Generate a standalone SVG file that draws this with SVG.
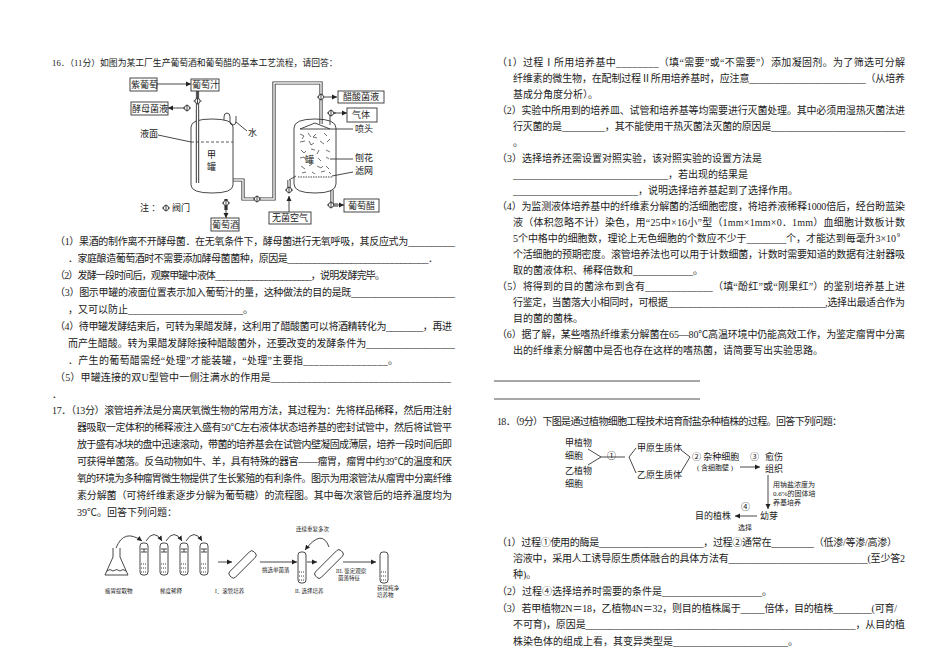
<svg xmlns="http://www.w3.org/2000/svg" width="950" height="672" viewBox="0 0 950 672">
<defs>
<marker id="ar" markerWidth="6" markerHeight="6" refX="5" refY="3" orient="auto" markerUnits="userSpaceOnUse"><path d="M0,0.5 L5,3 L0,5.5 z" fill="#222"/></marker>
<g id="valve"><line x1="-4" y1="0" x2="4" y2="0" stroke="#333" stroke-width="1"/><circle cx="0" cy="0" r="2.6" fill="#fff" stroke="#333" stroke-width="0.9"/><line x1="0" y1="-3.5" x2="0" y2="3.5" stroke="#333" stroke-width="0.9"/></g>
</defs>
<style>
text{font-family:"Liberation Serif","Noto Sans CJK SC",serif;fill:#222}
.t{font-size:10px}
.s{font-size:9px}
.xs{font-size:5.5px}
.box{fill:#fff;stroke:#333;stroke-width:0.9}
.ln{fill:none;stroke:#333;stroke-width:0.9}
.pp{fill:none;stroke:#333;stroke-width:3.2}
.pi{fill:none;stroke:#fff;stroke-width:1.4}
.ul{stroke:#222;stroke-width:0.8}
</style>
<rect width="950" height="672" fill="#fff"/>

<g id="q16-text" class="t">
<text x="52" y="66" style="font-size:8.8px">16．（11分）如图为某工厂生产葡萄酒和葡萄醋的基本工艺流程，请回答：</text>
<text x="55" y="245" textLength="400">（1）果酒的制作离不开酵母菌．在无氧条件下，酵母菌进行无氧呼吸，其反应式为__________</text>
<text x="68" y="262" textLength="370">．家庭酿造葡萄酒时不需要添加酵母菌菌种，原因是_______________________________．</text>
<text x="55" y="279" textLength="330">（2）发酵一段时间后，观察甲罐中液体_______________________，说明发酵完毕。</text>
<text x="55" y="296" textLength="400">（3）图示甲罐的液面位置表示加入葡萄汁的量，这种做法的目的是既______________________</text>
<text x="68" y="313" textLength="185">，又可以防止_______________________。</text>
<text x="55" y="330" textLength="397">（4）待甲罐发酵结束后，可转为果醋发酵，这利用了醋酸菌可以将酒精转化为________，再进</text>
<text x="68" y="347" textLength="387">而产生醋酸。转为果醋发酵除接种醋酸菌外，还要改变的发酵条件为__________________</text>
<text x="68" y="364" textLength="330">．产生的葡萄醋需经“处理”才能装罐，“处理”主要指________________。</text>
<text x="55" y="381" textLength="396">（5）甲罐连接的双U型管中一侧注满水的作用是___________________________________</text>
<text x="52" y="398">．</text>
</g>

<g id="q17-text" class="t">
<text x="52" y="414" textLength="400">17．（13分）滚管培养法是分离厌氧微生物的常用方法，其过程为：先将样品稀释，然后用注射</text>
<text x="77" y="431" textLength="375">器吸取一定体积的稀释液注入盛有50℃左右液体状态培养基的密封试管中，然后将试管平</text>
<text x="77" y="448" textLength="375">放于盛有冰块的盘中迅速滚动，带菌的培养基会在试管内壁凝固成薄层，培养一段时间后即</text>
<text x="77" y="465" textLength="375">可获得单菌落。反刍动物如牛、羊，具有特殊的器官——瘤胃，瘤胃中约39℃的温度和厌</text>
<text x="77" y="482" textLength="375">氧的环境为多种瘤胃微生物提供了生长繁殖的有利条件。图示为用滚管法从瘤胃中分离纤维</text>
<text x="77" y="499" textLength="375">素分解菌（可将纤维素逐步分解为葡萄糖）的流程图。其中每次滚管后的培养温度均为</text>
<text x="77" y="516">39℃。回答下列问题：</text>
</g>

<g id="q17r-text" class="t">
<text x="497" y="66" textLength="408">（1）过程Ⅰ所用培养基中________（填“需要”或“不需要”）添加凝固剂。为了筛选可分解</text>
<text x="513" y="82" textLength="392">纤维素的微生物，在配制过程Ⅱ所用培养基时，应注意________________________（从培养</text>
<text x="513" y="98">基成分角度分析）。</text>
<text x="497" y="114" textLength="408">（2）实验中所用到的培养皿、试管和培养基等均需要进行灭菌处理。其中必须用湿热灭菌法进</text>
<text x="513" y="130" textLength="392">行灭菌的是_________，其不能使用干热灭菌法灭菌的原因是____________________________</text>
<text x="513" y="146">。</text>
<text x="497" y="162">（3）选择培养还需设置对照实验，该对照实验的设置方法是</text>
<text x="513" y="178">_______________________________，若出现的结果是</text>
<text x="513" y="194">_________________________，说明选择培养基起到了选择作用。</text>
<text x="497" y="210" textLength="408">（4）为监测液体培养基中的纤维素分解菌的活细胞密度，将培养液稀释1000倍后，经台盼蓝染</text>
<text x="513" y="226" textLength="392">液（体积忽略不计）染色，用“25中×16小”型（1mm×1mm×0．1mm）血细胞计数板计数</text>
<text x="513" y="242" textLength="383">5个中格中的细胞数，理论上无色细胞的个数应不少于________个，才能达到每毫升3×10</text>
<text x="897" y="237" style="font-size:6px">9</text>
<text x="513" y="258" textLength="392">个活细胞的预期密度。滚管培养法也可以用于计数细菌，计数时需要知道的数据有注射器吸</text>
<text x="513" y="274">取的菌液体积、稀释倍数和____________。</text>
<text x="497" y="290" textLength="408">（5）将得到的目的菌涂布到含有_____________（填“酚红”或“刚果红”）的鉴别培养基上进</text>
<text x="513" y="306" textLength="392">行鉴定，当菌落大小相同时，可根据__________________________________,选择出最适合作为</text>
<text x="513" y="322">目的菌的菌株。</text>
<text x="497" y="338" textLength="408">（6）据了解，某些嗜热纤维素分解菌在65—80℃高温环境中仍能高效工作，为鉴定瘤胃中分离</text>
<text x="513" y="354">出的纤维素分解菌中是否也存在这样的嗜热菌，请简要写出实验思路。</text>
<line class="ul" x1="494" y1="381" x2="700" y2="381"/>
<line class="ul" x1="494" y1="399" x2="700" y2="399"/>
</g>

<g id="q18-text" class="t">
<text x="497" y="425" textLength="345">18．（9分）下图是通过植物细胞工程技术培育耐盐杂种植株的过程。回答下列问题：</text>
<text x="497" y="546" textLength="400">（1）过程①使用的酶是______________________，过程②通常在_________（低渗/等渗/高渗）</text>
<text x="513" y="562" textLength="392">溶液中，采用人工诱导原生质体融合的具体方法有_____________________________(至少答2</text>
<text x="513" y="578">种)。</text>
<text x="497" y="595">（2）过程④选择培养时需要的条件是____________________。</text>
<text x="497" y="612" textLength="400">（3）若甲植物2N＝18，乙植物4N＝32，则目的植株属于_____倍体，目的植株________(可育/</text>
<text x="513" y="628" textLength="392">不可育)，原因是_______________________________________________________，从目的植</text>
<text x="513" y="645">株染色体的组成上看，其变异类型是_______________________。</text>
</g>

<!-- Figure 1: wine/vinegar -->
<g id="fig1">
<g id="connectors1">
<path class="pp" d="M197.5,91 V183"/><path class="pi" d="M197.5,91 V183"/>
<path class="pp" d="M233,180 H243 V199 H274 V83 H321 V124"/><path class="pi" d="M233,180 H243 V199 H274 V83 H321 V124"/>
<path class="pp" d="M226,199 V210"/>
<path class="pp" d="M289,180 V192"/><path class="pi" d="M289,180 V192"/>
<path class="pp" d="M332,190 V205 H338"/><path class="pi" d="M332,190 V205 H338"/>
<path class="ln" d="M157,84 H191" marker-end="url(#ar)"/>
<path class="ln" d="M184,108 H168" marker-end="url(#ar)"/>
<path class="ln" d="M197.5,101 V91"/>
<path class="ln" d="M325,97 H337" marker-end="url(#ar)"/>
<path class="ln" d="M330,125 V113 H336" /><path class="ln" d="M334,113 H347" marker-end="url(#ar)"/>
<path class="ln" d="M335,205 H344" marker-end="url(#ar)"/>
<path class="ln" d="M226,203 V218" marker-end="url(#ar)"/>
<path class="ln" d="M289,212 V196" marker-end="url(#ar)"/>
<path class="ln" d="M289,180 L296,176"/>
</g>
<g id="tank1">
<path class="ln" d="M191,127 Q191,119 212,119 Q233,119 233,127 V185 Q233,193 212,193 Q191,193 191,185 Z" fill="#fff"/>
<path class="pp" d="M197.5,110 V183"/><path class="pi" d="M197.5,110 V183"/>
<line x1="191" y1="142" x2="233" y2="142" stroke="#333" stroke-width="0.8" stroke-dasharray="3,2"/>
<path class="ln" d="M224,120 V117 Q224,113 227,113 Q230,113 230,117 V122 Q230,125 233,125 Q236,125 236,121 V116"/>
<text class="s" x="207" y="158">甲</text><text class="s" x="207" y="170">罐</text>
<text class="s" x="140" y="137">液面</text><line class="ln" x1="158" y1="135" x2="191" y2="142"/>
<text class="s" x="248" y="136">水</text><line class="ln" x1="236" y1="122" x2="247" y2="131"/>
</g>
<g id="tank2">
<path class="ln" d="M294,128 Q294,119 315,119 Q336,119 336,128 V184 Q336,193 315,193 Q294,193 294,184 Z" fill="#fff"/>
<path class="ln" d="M300,129 L315,123 L330,129 Z"/>
<line class="ln" x1="298" y1="177" x2="332" y2="177" stroke-dasharray="1.5,1"/>
<path d="M300,134 l4,2 l-2,3 M308,133 l3,4 M316,134 l-3,3 l4,1 M324,133 l3,3 M300,142 l5,-1 M309,141 l2,4 l3,-2 M320,141 l4,3 M327,142 l3,-3 M301,150 l3,3 l2,-2 M311,149 l4,1 M319,150 l-2,4 M326,150 l4,2 M300,158 l4,-1 l2,3 M318,158 l3,3 M326,157 l3,2 M301,166 l4,3 M309,166 l3,-2 M317,166 l4,2 l2,-2 M326,166 l3,3 M302,173 l4,-1 M312,172 l3,2 M321,172 l4,-1 M329,172 l2,2" stroke="#333" stroke-width="0.7" fill="none"/>
<text class="s" x="305" y="163">罐</text>
<text class="s" x="355" y="132">喷头</text><line class="ln" x1="330" y1="129" x2="353" y2="129"/>
<text class="s" x="355" y="161">刨花</text><line class="ln" x1="330" y1="159" x2="353" y2="159"/>
<text class="s" x="355" y="174">滤网</text><line class="ln" x1="332" y1="176" x2="353" y2="172"/>
</g>
<g id="boxes1">
<g id="n-zpt"><rect class="box" x="130" y="78" width="27" height="13"/><text class="s" x="131" y="88">紫葡萄</text></g>
<g id="n-ptz"><rect class="box" x="191" y="79" width="28" height="12"/><text class="s" x="192" y="88">葡萄汁</text></g>
<g id="n-jmj"><rect class="box" x="131" y="102" width="37" height="13"/><text class="s" x="132" y="112">酵母菌液</text></g>
<g id="n-csj"><rect class="box" x="338" y="91" width="46" height="12"/><text class="s" x="343" y="100">醋酸菌液</text></g>
<g id="n-qt"><rect class="box" x="347" y="108" width="30" height="14"/><text class="s" x="352" y="118">气体</text></g>
<g id="n-ptc"><rect class="box" x="344" y="199" width="35" height="13"/><text class="s" x="348" y="209">葡萄醋</text></g>
<g id="n-ptj"><rect class="box" x="211" y="218" width="28" height="13"/><text class="s" x="212" y="228">葡萄酒</text></g>
<g id="n-wjkq"><rect class="box" x="269" y="212" width="42" height="12"/><text class="s" x="272" y="221">无菌空气</text></g>
</g>
<use href="#valve" x="197.5" y="101"/>
<use href="#valve" x="187" y="108"/>
<use href="#valve" x="257" y="199"/>
<use href="#valve" x="321" y="97"/>
<use href="#valve" x="331" y="113"/>
<use href="#valve" x="331" y="205"/>
<use href="#valve" x="226" y="203"/>
<use href="#valve" x="289" y="190"/>
<text class="s" x="140" y="211">注 ：</text><use href="#valve" x="166" y="208"/><text class="s" x="172" y="211">阀门</text>
</g>

<!-- Figure 2: roll tube -->
<g id="fig2">
<g id="flask"><path class="ln" d="M113,548 V557 L105,575 H128 L120,557 V548"/><path d="M107,571 q3,-3 6,0 q4,-3 7,0 q3,-3 6,0" class="ln" stroke-width="0.6"/></g>
<g id="tubes">
<rect class="ln" x="140" y="543" width="8" height="32" rx="3"/><rect class="ln" x="160" y="543" width="8" height="32" rx="3"/>
<rect class="ln" x="180" y="543" width="8" height="32" rx="3"/><rect class="ln" x="200" y="543" width="8" height="32" rx="3"/>
<g stroke="#444" stroke-width="1" stroke-dasharray="1,1"><line x1="141" y1="564" x2="147" y2="564"/><line x1="141" y1="568" x2="147" y2="568"/><line x1="141" y1="572" x2="147" y2="572"/><line x1="161" y1="564" x2="167" y2="564"/><line x1="161" y1="568" x2="167" y2="568"/><line x1="161" y1="572" x2="167" y2="572"/><line x1="181" y1="564" x2="187" y2="564"/><line x1="181" y1="568" x2="187" y2="568"/><line x1="181" y1="572" x2="187" y2="572"/><line x1="201" y1="564" x2="207" y2="564"/><line x1="201" y1="568" x2="207" y2="568"/><line x1="201" y1="572" x2="207" y2="572"/>
<line x1="299" y1="572" x2="305" y2="572"/><line x1="299" y1="576" x2="305" y2="576"/><line x1="299" y1="580" x2="305" y2="580"/>
<line x1="381" y1="572" x2="387" y2="572"/><line x1="381" y1="576" x2="387" y2="576"/><line x1="381" y1="580" x2="387" y2="580"/></g>
<g class="ln" stroke-width="0.6"><path d="M141,549 h6 M141,552 h6 M144,549 v3 M161,549 h6 M161,552 h6 M164,549 v3 M181,549 h6 M181,552 h6 M184,549 v3 M201,549 h6 M201,552 h6 M204,549 v3"/></g>
<rect class="ln" x="298" y="552" width="8" height="31" rx="3"/>
<rect class="ln" x="380" y="552" width="8" height="31" rx="3"/>
<rect class="ln" x="240" y="548" width="8" height="34" rx="3" transform="rotate(45 244 563)"/>
<rect class="ln" x="325" y="546" width="8" height="36" rx="3" transform="rotate(45 329 564)"/>
</g>
<g id="connectors2">
<path class="ln" d="M116,548 Q124,528 142,541" marker-end="url(#ar)"/>
<path class="ln" d="M146,541 Q154,528 162,541" marker-end="url(#ar)"/>
<path class="ln" d="M166,541 Q174,528 182,541" marker-end="url(#ar)"/>
<path class="ln" d="M186,541 Q194,528 202,541" marker-end="url(#ar)"/>
<path class="ln" d="M218,562 H232" marker-end="url(#ar)"/>
<path class="ln" d="M260,562 H297" marker-end="url(#ar)"/>
<path class="ln" d="M307,562 H317" marker-end="url(#ar)"/>
<path class="ln" d="M343,562 H376" marker-end="url(#ar)"/>
<path class="ln" d="M329,547 Q322,528 305,550" marker-end="url(#ar)"/>
</g>
<text class="xs" x="296" y="531">连续重复多次</text>
<text class="xs" x="262" y="572">挑选单菌落</text>
<text class="xs" x="336" y="573">III. 鉴定观察</text><text class="xs" x="338" y="580">菌落特征</text>
<text class="xs" x="105" y="593">瘤胃提取物</text>
<text class="xs" x="160" y="593">梯度稀释</text>
<text class="xs" x="215" y="593">I．滚管培养</text>
<text class="xs" x="295" y="593">II. 选择培养</text>
<text class="xs" x="377" y="590">获得纯净</text><text class="xs" x="377" y="597">培养物</text>
</g>

<!-- Figure 3: plant cells -->
<g id="fig3" class="s">
<g id="connectors3">
<path class="ln" d="M588,449 L601,457 L588,465"/>
<path class="ln" d="M601,457 H625"/>
<path class="ln" d="M636,448 L629,457 L636,473"/>
<path class="ln" d="M681,450 L690,457 L681,472"/>
<path class="ln" d="M740,467 H760" marker-end="url(#ar)"/>
<path class="ln" d="M768,475 V509" marker-end="url(#ar)"/>
<path class="ln" d="M757,516 H735" marker-end="url(#ar)"/>
</g>
<g id="n-jzw"><text x="565" y="446">甲植物</text><text x="565" y="459">细胞</text></g>
<g id="n-yzw"><text x="565" y="474">乙植物</text><text x="565" y="487">细胞</text></g>
<text x="607" y="459">①</text>
<g id="n-jys"><text x="637" y="451">甲原生质体</text></g>
<g id="n-yys"><text x="637" y="478">乙原生质体</text></g>
<g id="n-zz"><text x="692" y="460">② 杂种细胞</text><text x="697" y="470" style="font-size:7px">( 含细胞壁 )</text></g>
<text x="750" y="460">③</text>
<g id="n-ys"><text x="765" y="460">愈伤</text><text x="765" y="472">组织</text></g>
<text x="773" y="487" style="font-size:7px">用钠盐浓度为</text>
<text x="773" y="496" style="font-size:7px">0.6%的固体培</text>
<text x="773" y="505" style="font-size:7px">养基培养</text>
<g id="n-yy"><text x="760" y="519">幼芽</text></g>
<g id="n-mdzz"><text x="695" y="519">目的植株</text></g>
<text x="741" y="510">④</text>
<text x="738" y="530" style="font-size:7px">选择</text>
</g>
</svg>
